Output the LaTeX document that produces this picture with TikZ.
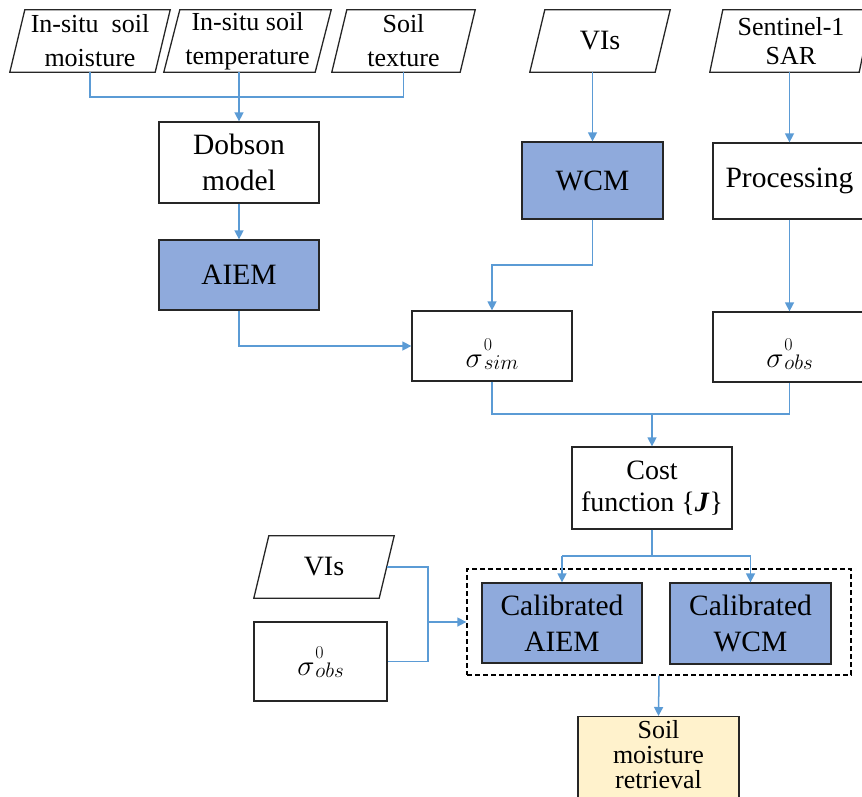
\RequirePackage{fix-cm}
\documentclass[tikz,border=0pt]{standalone}
\usepackage{fontspec}
\setmainfont{Liberation Serif}
\usetikzlibrary{arrows.meta,calc}
\definecolor{cfill}{HTML}{8FAADC}
\definecolor{cline}{HTML}{5B9BD5}
\definecolor{cyel}{HTML}{FFF2CC}
\definecolor{cbord}{HTML}{262626}
\newcommand\sigmastack[1]{$\sigma$\kern1pt\rlap{\raisebox{17pt}{\fontsize{18}{18}\selectfont$0$}}\raisebox{-2pt}{\fontsize{21}{21}\selectfont$#1$}}
\begin{document}
\begin{tikzpicture}[x=1pt,y=-1pt,
 bx/.style={draw=cbord,line width=1.3pt,inner sep=0pt,align=center},
 bluebox/.style={bx,fill=cfill},
 ptxt/.style={inner sep=0pt,align=center},
 conn/.style={draw=cline,line width=1.5pt},
 arr/.style={conn,-{Triangle[length=9pt,width=9pt]}},
 ftop/.style={font=\fontsize{26}{34}\selectfont},
 fmid/.style={font=\fontsize{28}{32}\selectfont},
 fbig/.style={font=\fontsize{29.5}{36}\selectfont},
 sigbox/.style={bx,font=\fontsize{29}{34}\selectfont,text depth=0pt,text height=#1},
 dashbox/.style={draw=black,line width=1.3pt,dash pattern=on 5pt off 3pt,inner sep=0pt},
]
\useasboundingbox (0,0) rectangle (862,796);
\clip (0,0) rectangle (862,796);

% parallelogram inputs (text nodes; outlines drawn below)
\node[ptxt,ftop,minimum width=160,minimum height=62] (p1) at (90,41) {In-situ\ \ soil\\moisture};
\node[ptxt,ftop,minimum width=167,minimum height=62] (p2) at (247.5,41) {In-situ soil\\temperature};
\node[ptxt,ftop,minimum width=143,minimum height=62] (p3) at (403.5,41) {Soil\\texture};
\node[ptxt,fmid,minimum width=140,minimum height=62] (vis1) at (600,41) {VIs};
\node[ptxt,font=\fontsize{26}{29}\selectfont,minimum width=162,minimum height=62] (sent) at (791,41) {Sentinel-1\\SAR};
\node[ptxt,fmid,minimum width=140,minimum height=62] (vis2) at (324,567) {VIs};

\foreach \n/\s in {p1/15,p2/16,p3/15,vis1/15,sent/13,vis2/15}
  \draw[draw=cbord,line width=1.3pt] ([xshift=\s pt]\n.north west) -- (\n.north east)
     -- ([xshift=-\s pt]\n.south east) -- (\n.south west) -- cycle;

% boxes
\node[bx,fbig,minimum width=160,minimum height=81] (dobson) at (239,162.5) {Dobson\\model};
\node[bluebox,fbig,minimum width=160,minimum height=70] (aiem) at (239,275) {AIEM};
\node[bluebox,fbig,minimum width=141,minimum height=77] (wcm) at (592.5,180.5) {WCM};
\node[bx,fbig,minimum width=153,minimum height=76] (proc) at (789.5,181) {Processing};
\node[sigbox=42pt,minimum width=160,minimum height=70] (sim) at (492,346) {\sigmastack{sim}};
\node[sigbox=40pt,minimum width=153,minimum height=70] (obs) at (789.5,347) {\sigmastack{obs}};
\node[bx,fmid,minimum width=160,minimum height=82] (cost) at (652,488) {Cost\\function \{\textbf{\textit{J}}\}};
\node[dashbox,minimum width=384,minimum height=106] (dbox) at (659,622) {};
\node[bluebox,fbig,minimum width=160,minimum height=80] (cal1) at (562,623) {Calibrated\\AIEM};
\node[bluebox,fbig,minimum width=161,minimum height=81] (cal2) at (750.5,623.5) {Calibrated\\WCM};
\node[sigbox=28pt,minimum width=133,minimum height=79] (obs2) at (320.5,661.5) {\sigmastack{obs}};
\node[bx,fill=cyel,minimum width=161,minimum height=120,anchor=north] (soil) at (658.5,716) {};
\node[ptxt,font=\fontsize{26}{25}\selectfont,anchor=north] (soiltxt) at ([yshift=-4pt]soil.north) {Soil\\moisture\\retrieval};

% connectors
\coordinate (bus) at (0,97);
\draw[conn] (p1.south) -- (p1.south |- bus) -- (p3.south |- bus) -- (p3.south);
\draw[arr] (p2.south -| dobson.north) -- (dobson.north);
\draw[arr] (dobson.south) -- (aiem.north);
\draw[arr] (vis1.south -| wcm.north) -- (wcm.north);
\draw[arr] (sent.south -| proc.north) -- (proc.north);
\draw[arr] (aiem.south) |- (sim.west);
\coordinate (b1) at (0,265);
\draw[arr] (wcm.south) -- (wcm.south |- b1) -| (sim.north);
\draw[arr] (proc.south) -- (obs.north);
\coordinate (b2) at (0,414);
\draw[conn] (sim.south) -- (sim.south |- b2) -- (obs.south |- b2) -- (obs.south);
\draw[arr] (cost.north |- b2) -- (cost.north);
\coordinate (b3) at (0,556);
\draw[conn] (cost.south) -- (cost.south |- b3);
\draw[conn] (cal1.north |- b3) -- (cal2.north |- b3);
\draw[arr] (cal1.north |- b3) -- (cal1.north);
\draw[arr] (cal2.north |- b3) -- (cal2.north);
\coordinate (b4) at (428,0);
\draw[conn] ([xshift=-7.5pt]vis2.east) -- (b4 |- vis2.east) -- (b4 |- obs2.east) -- (obs2.east);
\draw[arr] (b4 |- dbox.west) -- (dbox.west);
\draw[arr] (dbox.south) -- (soil.north);
\end{tikzpicture}
\end{document}
